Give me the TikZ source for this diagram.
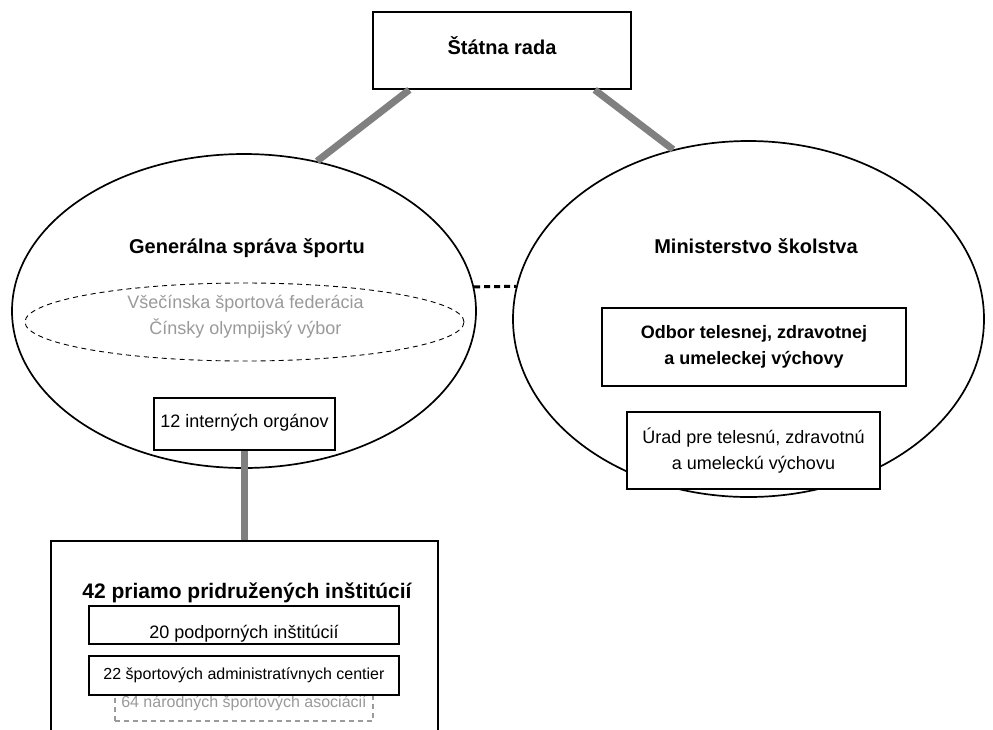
\documentclass[tikz,border=0pt]{standalone}
\usepackage{fontspec}
\setmainfont{Liberation Sans}
\usetikzlibrary{shapes.geometric}
\definecolor{conngray}{HTML}{808080}
\definecolor{txtgray}{HTML}{9A9A9A}
\begin{document}
\begin{tikzpicture}[x=1pt,y=-1pt,
  boxed/.style={draw, line width=1.7pt, rectangle, inner sep=0pt, fill=white, align=center},
  oval/.style={draw, line width=1.7pt, ellipse, inner sep=0pt},
  conn/.style={draw=conngray, line width=7pt},
  dotlink/.style={draw, line width=3pt, dash pattern=on 6pt off 4pt},
  btitle/.style={font=\fontsize{20}{24}\selectfont\bfseries, inner sep=0pt, text height=0.72em, text depth=0pt},
  bsmall/.style={font=\fontsize{18}{26}\selectfont\bfseries},
  normal/.style={font=\fontsize{18}{26}\selectfont},
  small/.style={font=\fontsize{16}{20}\selectfont}
]
\useasboundingbox (0,0) rectangle (993,729);
\clip (0,0) rectangle (993,729);
\fill[white] (0,0) rectangle (993,729);

% ellipses
\node[oval, minimum width=464pt, minimum height=314pt] (gs) at (244,311) {};
\node[oval, minimum width=471pt, minimum height=356pt] (ms) at (748.5,319) {};

% top box
\node[boxed, btitle, minimum width=258pt, minimum height=77pt] (stat) at (502,50.5) {Štátna rada};

% connectors
\draw[conn] (stat.203) -- (gs.64);
\draw[conn] (stat.337) -- (ms.114);
\draw[dotlink] (gs.6) -- (ms.172);

% left ellipse content
\node[btitle] (gstitle) at (247,250) {Generálna správa športu};
\node[draw, line width=0.9pt, dash pattern=on 5pt off 4pt, ellipse, inner sep=0pt,
      minimum width=439pt, minimum height=78pt] (fed) at (244.5,322) {};
\node[normal, text=txtgray, align=center, inner sep=0pt] (fedtext) at (245.5,317)
  {Všečínska športová federácia\\Čínsky olympijský výbor};
\node[boxed, normal, minimum width=181pt, minimum height=52pt, text height=0.72em, text depth=0pt] (io) at (244.5,424) {12 interných orgánov};

% right ellipse content
\node[btitle] (mstitle) at (756,250) {Ministerstvo školstva};
\node[boxed, bsmall, minimum width=304pt, minimum height=78pt] (odbor) at (754,347)
  {Odbor telesnej, zdravotnej\\a umeleckej výchovy};
\node[boxed, normal, minimum width=253pt, minimum height=77pt] (urad) at (753.5,450.5)
  {Úrad pre telesnú, zdravotnú\\a umeleckú výchovu};

% bottom box
\node[boxed, minimum width=387pt, minimum height=210pt] (big) at (244.5,646) {};
\draw[conn] (io.south) -- (big.north);
\node[btitle, font=\fontsize{21}{24}\selectfont\bfseries] (bigtitle) at (247,595) {42 priamo pridružených inštitúcií};
\node[boxed, normal, minimum width=310pt, minimum height=38pt, text height=27pt, text depth=0pt] (podp) at (244,625) {20 podporných inštitúcií};
\node[draw=txtgray, line width=1.2pt, dash pattern=on 5pt off 4pt, rectangle, inner sep=0pt, small, text=txtgray,
      minimum width=258pt, minimum height=28pt, text height=1.5pt, text depth=0pt] (asoc) at (244,707) {64 národných športových asociácií};
\node[boxed, small, minimum width=310pt, minimum height=39pt, text height=0.72em, text depth=0pt] (centr) at (244,675.5) {22 športových administratívnych centier};
\end{tikzpicture}
\end{document}
